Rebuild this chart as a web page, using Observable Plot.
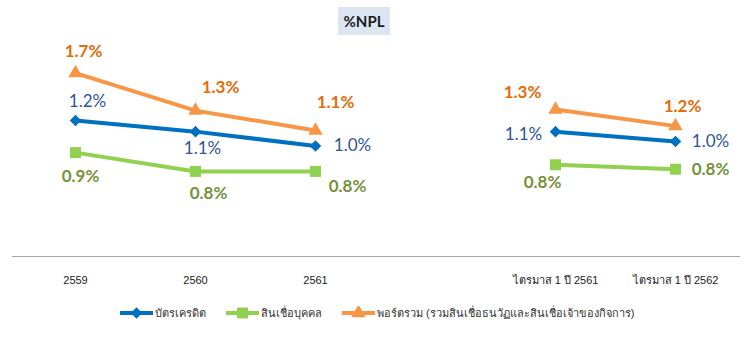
<!DOCTYPE html>
<html>
<head>
<meta charset="utf-8">
<script src="https://cdn.jsdelivr.net/npm/d3@7"></script>
<script src="https://cdn.jsdelivr.net/npm/@observablehq/plot@0.6"></script>
<style>
  body { margin: 0; background: #fff; width: 752px; height: 351px; position: relative; overflow: hidden; }
  #chart { position: absolute; left: 0; top: 0; }
  #title { position: absolute; left: 338px; top: 7px; width: 52px; height: 28px; background: #DCE6F2;
           font: bold 15px Lato, "Liberation Sans", sans-serif; color: #1a1a1a;
           display: flex; align-items: center; justify-content: center; }
  #legend { position: absolute; left: 120px; top: 304px; height: 18px; display: flex; align-items: center;
            font: 11px "Liberation Sans", "Noto Sans", sans-serif; color: #333; }
  .item { display: flex; align-items: center; margin-right: 20px; }
  .item svg { margin-right: 2px; }
</style>
</head>
<body>
<div id="chart"></div>
<div id="title">%NPL</div>
<div id="legend"></div>
<script>
const categories = ["2559", "2560", "2561", "", "ไตรมาส 1 ปี 2561", "ไตรมาส 1 ปี 2562"];
const seriesNames = ["บัตรเครดิต", "สินเชื่อบุคคล", "พอร์ตรวม (รวมสินเชื่อธนวัฏและสินเชื่อเจ้าของกิจการ)"];
const creditCard   = [1.23, 1.13, 1.00, null, 1.13, 1.04];
const personalLoan = [0.94, 0.77, 0.77, null, 0.83, 0.79];
const portfolio    = [1.66, 1.32, 1.14, null, 1.33, 1.18];

const seriesValues = [creditCard, personalLoan, portfolio];
const lineColors = ["#0070C0", "#92D050", "#F79646"];
const labelColors = ["#2F5597", "#76923C", "#E46C0A"];
const labelWeights = ["normal", "bold", "bold"];
const symbols = ["diamond2", "square", "triangle"];
const radii = [5.2, 6.2, 5.4];

const rows = seriesNames.flatMap((s, si) =>
  categories.map((c, ci) => ({ series: s, si, ci, cat: c, value: seriesValues[si][ci] })));

// label placements (pixel offsets) per series / category index
const offsets = [
  [[12, -19], [7, 17], [37, 0], null, [-32, 3], [35, 0]],
  [[5, 24], [13, 22], [32, 15], null, [-13, 18], [35, 0]],
  [[8, -22], [25, -23], [20, -28], null, [-33, -17], [7, -20]]
];

const fmt = d3.format(".1f");

const labelMarks = rows.filter(d => d.value != null).map(d =>
  Plot.text([d], {
    x: "cat", y: "value", text: r => fmt(r.value) + "%",
    dx: offsets[d.si][d.ci][0], dy: offsets[d.si][d.ci][1],
    fill: labelColors[d.si], fontWeight: labelWeights[d.si],
    fontSize: 17, fontFamily: "Lato, 'Liberation Sans', sans-serif"
  }));

const chart = Plot.plot({
  width: 752,
  height: 295,
  marginLeft: 15,
  marginRight: 17,
  marginTop: 35,
  marginBottom: 39,
  style: { background: "transparent", fontFamily: "'Liberation Sans', 'Noto Sans', sans-serif" },
  x: { type: "point", domain: categories, padding: 0.5, tickSize: 0, tickPadding: 20, label: null },
  y: { domain: [0, 2], axis: null },
  marks: [
    Plot.ruleY([0], { stroke: "#A6A6A6", strokeWidth: 1, insetLeft: -3, insetRight: -5 }),
    ...seriesNames.map((s, si) => Plot.line(rows.filter(d => d.si === si), {
      x: "cat", y: "value", stroke: lineColors[si], strokeWidth: 4, curve: "linear"
    })),
    ...seriesNames.map((s, si) => Plot.dot(rows.filter(d => d.si === si && d.value != null), {
      x: "cat", y: "value", symbol: symbols[si], fill: lineColors[si], r: radii[si], stroke: "none"
    })),
    ...labelMarks,
    Plot.axisX({ tickSize: 0, tickPadding: 20, fontSize: 11, fill: "#222", label: null })
  ]
});
document.getElementById("chart").appendChild(chart);

// legend
const legend = document.getElementById("legend");
seriesNames.forEach((s, si) => {
  const item = document.createElement("div");
  item.className = "item";
  const svg = d3.create("svg").attr("width", 33).attr("height", 14);
  svg.append("line").attr("x1", 0).attr("x2", 33).attr("y1", 7).attr("y2", 7)
     .attr("stroke", lineColors[si]).attr("stroke-width", 4);
  const symMap = { diamond2: d3.symbolDiamond2, square: d3.symbolSquare, triangle: d3.symbolTriangle };
  svg.append("path").attr("transform", "translate(16.5,7)")
     .attr("d", d3.symbol(symMap[symbols[si]], Math.PI * radii[si] * radii[si])())
     .attr("fill", lineColors[si]);
  item.appendChild(svg.node());
  const span = document.createElement("span");
  span.textContent = s;
  item.appendChild(span);
  legend.appendChild(item);
});
</script>
</body>
</html>
